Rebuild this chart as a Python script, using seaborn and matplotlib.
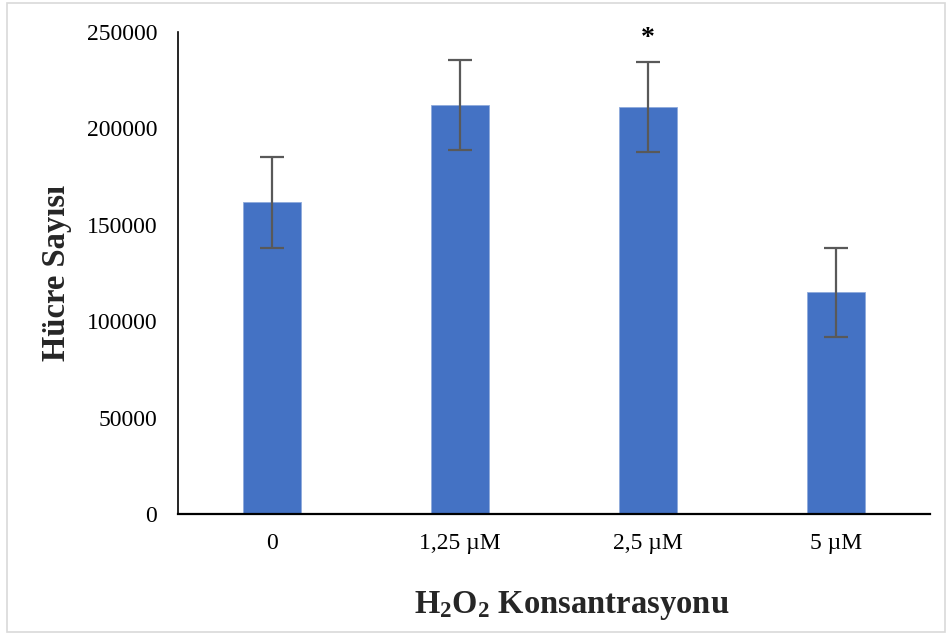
import matplotlib
matplotlib.use("Agg")
import matplotlib.pyplot as plt
import seaborn as sns
import pandas as pd
from matplotlib.patches import Rectangle

categories = ["0", "1,25 µM", "2,5 µM", "5 µM"]
values = [161700, 212300, 210900, 115000]
errors = [23500, 23300, 23300, 23100]
significance = ["", "", "*", ""]

sns.set_theme(style="white")
plt.rcParams['font.family'] = ['Liberation Serif', 'DejaVu Serif']
plt.rcParams['mathtext.fontset'] = 'custom'
plt.rcParams['mathtext.rm'] = 'Liberation Serif:bold'
plt.rcParams['mathtext.it'] = 'Liberation Serif:bold'
plt.rcParams['mathtext.bf'] = 'Liberation Serif:bold'

df = pd.DataFrame({"cat": categories, "val": values})

fig = plt.figure(figsize=(9.49, 6.37), dpi=100)
ax = fig.add_axes([178/949, 1-514/637, (930-178)/949, (514-32)/637])

sns.barplot(data=df, x="cat", y="val", color="#4472C4", saturation=1,
            width=0.31, errorbar=None, ax=ax, edgecolor="#8faadc", linewidth=0.6)
ax.errorbar(range(len(categories)), values, yerr=errors, fmt="none",
            ecolor="#595959", elinewidth=1.6, capsize=8.5, capthick=1.6)

for i, s in enumerate(significance):
    if s:
        ax.text(i, values[i] + errors[i] + 12500, s, ha="center", va="center",
                fontsize=20, fontweight="bold", color="black")

ax.set_xlim(-0.5, 3.5)
ax.set_ylim(0, 250000)
ax.set_yticks([0, 50000, 100000, 150000, 200000, 250000])
ax.set_yticklabels(["0", "50000", "100000", "150000", "200000", "250000"])
ax.tick_params(axis="y", length=0, pad=15, labelsize=17, colors="black")
ax.tick_params(axis="x", length=0, pad=14, labelsize=17, colors="black")

for sp in ["top", "right"]:
    ax.spines[sp].set_visible(False)
ax.spines["left"].set_color("black")
ax.spines["left"].set_linewidth(1.2)
ax.spines["bottom"].set_color("black")
ax.spines["bottom"].set_linewidth(1.6)

ax.set_xlabel("")
ax.set_ylabel("")
fig.text(57/949, 1-273/637, "Hücre Sayısı", rotation=90, ha="center", va="center",
         fontsize=23.5, fontweight="bold")
fig.text(572/949, 1-605/637, r"H$_{2}$O$_{2}$ Konsantrasyonu", ha="center", va="center",
         fontsize=23.5, fontweight="bold")

fig.patches.append(Rectangle((7/949, 1-632/637), (945-7)/949, (632-3)/637,
                             transform=fig.transFigure, fill=False,
                             edgecolor="#d9d9d9", linewidth=1.2))

fig.savefig("out.png", dpi=100)
